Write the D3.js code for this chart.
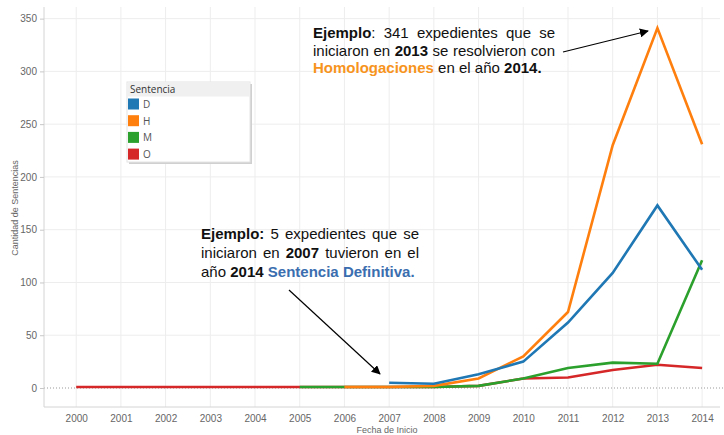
<!DOCTYPE html>
<html>
<head>
<meta charset="utf-8">
<script src="https://cdn.jsdelivr.net/npm/d3@7"></script>
<style>
  body { margin: 0; background: #fff; }
  svg { font-family: Arial, "Liberation Sans", sans-serif; }
</style>
</head>
<body>
<script>
// data
var years = [2000, 2001, 2002, 2003, 2004, 2005, 2006, 2007, 2008, 2009, 2010, 2011, 2012, 2013, 2014];
var serieD = [null, null, null, null, null, null, null, 5, 4, 13, 25, 62, 109, 173, 112];
var serieH = [null, null, null, null, null, null, 1, 1, 2, 9, 30, 72, 230, 341, 231];
var serieM = [null, null, null, null, null, 1, 1, 1, 1, 2, 9, 19, 24, 23, 121];
var serieO = [1, 1, 1, 1, 1, 1, 1, 1, 1, 2, 9, 10, 17, 22, 19];
var categorias = ["D", "H", "M", "O"];
var yTicks = [0, 50, 100, 150, 200, 250, 300, 350];

var colores = { D: "#1f77b4", H: "#ff7f0e", M: "#2ca02c", O: "#d62728" };
var series = { D: serieD, H: serieH, M: serieM, O: serieO };

var W = 724, H = 435;
var svg = d3.select("body").append("svg").attr("width", W).attr("height", H);

var x = d3.scaleLinear().domain([1999.28, 2014.4]).range([44, 720]);
var y = d3.scaleLinear().domain([-18, 361]).range([407, 7]);

// grid
svg.append("g").selectAll("line").data(years).join("line")
  .attr("x1", d => x(d)).attr("x2", d => x(d))
  .attr("y1", 7).attr("y2", 407)
  .attr("stroke", "#ededed");
svg.append("g").selectAll("line").data(yTicks.slice(1)).join("line")
  .attr("x1", 44).attr("x2", 720)
  .attr("y1", d => y(d)).attr("y2", d => y(d))
  .attr("stroke", "#ededed");

// zero line
svg.append("line")
  .attr("x1", 44).attr("x2", 724).attr("y1", y(0)).attr("y2", y(0))
  .attr("stroke", "#999").attr("stroke-dasharray", "1,2");

// axes
var gy = svg.append("g").attr("transform", "translate(44,0)")
  .call(d3.axisLeft(y).tickValues(yTicks).tickSize(4).tickPadding(3));
var gx = svg.append("g").attr("transform", "translate(0,407)")
  .call(d3.axisBottom(x).tickValues(years).tickFormat(d3.format("d")).tickSize(0).tickPadding(8));
[gy, gx].forEach(function(g) {
  g.select(".domain").attr("stroke", "#d4d4d4");
  g.selectAll(".tick line").attr("stroke", "#c8c8c8");
  g.selectAll(".tick text").attr("fill", "#666").style("font-size", "10px")
    .style("font-family", "Arial, 'Liberation Sans', sans-serif");
});
gy.select(".domain").attr("d", "M0,7V407");
gx.select(".domain").attr("d", "M44,0H720");

svg.append("text")
  .attr("transform", "translate(18,208) rotate(-90)")
  .attr("text-anchor", "middle")
  .attr("fill", "#666").style("font-size", "9px")
  .text("Cantidad de Sentencias");
svg.append("text")
  .attr("x", 387).attr("y", 433)
  .attr("text-anchor", "middle")
  .attr("fill", "#666").style("font-size", "9px")
  .text("Fecha de Inicio");

// lines
var linea = d3.line()
  .defined(d => d.v != null)
  .x(d => x(d.year)).y(d => y(d.v));
["O", "M", "H", "D"].forEach(function(k) {
  var pts = years.map((yr, i) => ({ year: yr, v: series[k][i] }));
  svg.append("path")
    .datum(pts)
    .attr("d", linea)
    .attr("fill", "none")
    .attr("stroke", colores[k])
    .attr("stroke-width", 2.6)
    .attr("stroke-linejoin", "miter");
});

// legend
var lg = svg.append("g");
lg.append("rect").attr("x", 129).attr("y", 84).attr("width", 123).attr("height", 80).attr("fill", "#d0d0d0");
lg.append("rect").attr("x", 127).attr("y", 82).attr("width", 123).attr("height", 80)
  .attr("fill", "#fff").attr("stroke", "#e4e4e4");
lg.append("rect").attr("x", 127.5).attr("y", 82.5).attr("width", 122).attr("height", 14).attr("fill", "#f0f0f0");
lg.append("text").attr("x", 130).attr("y", 93).attr("fill", "#333").style("font-size", "10px")
  .style("font-family", "'Open Sans', Arial, sans-serif").text("Sentencia");
var items = lg.selectAll("g.item").data(categorias).join("g")
  .attr("transform", (d, i) => "translate(128," + (98.5 + i * 16.7) + ")");
items.append("rect").attr("width", 11).attr("height", 11).attr("fill", d => colores[d]);
items.append("text").attr("x", 15).attr("y", 9.5).attr("fill", "#555")
  .style("font-size", "10px").style("font-family", "'Open Sans', Arial, sans-serif").text(d => d);

// annotations (justified text)
var naranja = "#f7941d", azul = "#3a6eaf";
function nota(x0, y0, ancho, lh, lineas) {
  var g = svg.append("g").style("font-size", "15px");
  lineas.forEach(function(ln, li) {
    var words = ln.words.map(function(w) {
      var t = g.append("text").attr("y", y0 + li * lh).attr("fill", "#111");
      w.forEach(function(s) {
        t.append("tspan").text(s[0])
          .attr("font-weight", s[1] ? "bold" : null)
          .attr("fill", s[2] || null);
      });
      return { node: t, w: t.node().getComputedTextLength() };
    });
    var total = d3.sum(words, d => d.w);
    var gap = ln.justify ? (ancho - total) / (words.length - 1) : 4.2;
    var cx = x0;
    words.forEach(function(d) { d.node.attr("x", cx); cx += d.w + gap; });
  });
}
nota(313, 38, 242, 17.7, [
  { justify: true, words: [[["Ejemplo", 1], [":"]], [["341"]], [["expedientes"]], [["que"]], [["se"]]] },
  { justify: true, words: [[["iniciaron"]], [["en"]], [["2013", 1]], [["se"]], [["resolvieron"]], [["con"]]] },
  { justify: false, words: [[["Homologaciones", 1, naranja]], [["en"]], [["el"]], [["año"]], [["2014.", 1]]] }
]);
nota(201, 239, 218, 19.2, [
  { justify: true, words: [[["Ejemplo:", 1]], [["5"]], [["expedientes"]], [["que"]], [["se"]]] },
  { justify: true, words: [[["iniciaron"]], [["en"]], [["2007", 1]], [["tuvieron"]], [["en"]], [["el"]]] },
  { justify: false, words: [[["año"]], [["2014", 1]], [["Sentencia", 1, azul]], [["Definitiva.", 1, azul]]] }
]);

// arrows
svg.append("defs").append("marker")
  .attr("id", "flecha").attr("viewBox", "0 0 10 10")
  .attr("refX", 9).attr("refY", 5)
  .attr("markerWidth", 9).attr("markerHeight", 9)
  .attr("markerUnits", "userSpaceOnUse")
  .attr("orient", "auto")
  .append("path").attr("d", "M0,0L10,5L0,10z").attr("fill", "#000");
[[563, 52, 648, 31], [289, 290, 380, 374]].forEach(function(a) {
  svg.append("line")
    .attr("x1", a[0]).attr("y1", a[1]).attr("x2", a[2]).attr("y2", a[3])
    .attr("stroke", "#000").attr("stroke-width", 1.2)
    .attr("marker-end", "url(#flecha)");
});
</script>
</body>
</html>
